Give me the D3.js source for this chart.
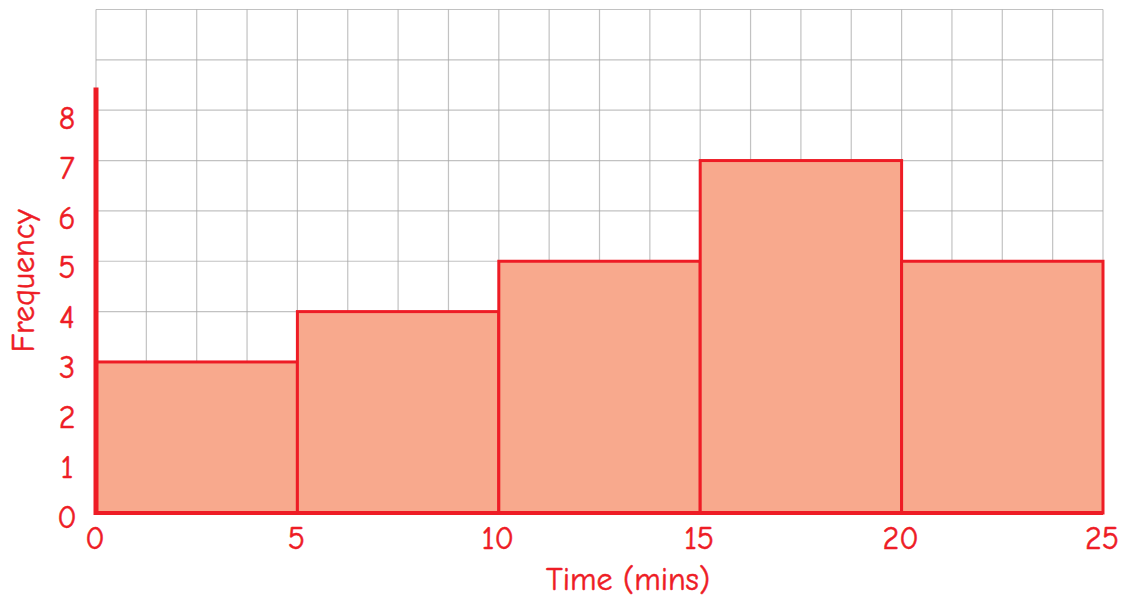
<!DOCTYPE html>
<html><head><meta charset="utf-8">
<script src="https://cdn.jsdelivr.net/npm/d3@7/dist/d3.min.js"></script>
<style>
html,body{margin:0;padding:0;background:#fff;}
svg{display:block;}
text{font-family:"Comic Sans MS","Comic Neue","Lato","Noto Sans",sans-serif;fill:#ee1c25;stroke:#ee1c25;stroke-width:0.5;}
</style></head>
<body><svg id="c" width="1126" height="599"></svg>
<script>
const binStarts = [0, 5, 10, 15, 20];
const binEnds = [5, 10, 15, 20, 25];
const frequencies = [3, 4, 5, 7, 5];
const xTickLabels = [0, 5, 10, 15, 20, 25];
const yTickLabels = [0, 1, 2, 3, 4, 5, 6, 7, 8];
const xGrid = d3.range(0, 25.001, 1.25);
const yGrid = d3.range(0, 10.001, 1);

const RED = "#ee1c25", FILL = "#f8a98d";
const svg = d3.select("#c");
const x = d3.scaleLinear().domain([0, 25]).range([96, 1103]);
const y = d3.scaleLinear().domain([0, 10]).range([513, 9.5]);
// label positions in the original are spaced slightly tighter than the grid
const yLab = d3.scaleLinear().domain([0, 8]).range([516, 117.5]);

// grid
const g = svg.append("g");
g.selectAll("line.v").data(xGrid).enter().append("line")
  .attr("x1", d => x(d)).attr("x2", d => x(d)).attr("y1", y(0)).attr("y2", y(10))
  .attr("stroke", "#a8a8a8").attr("stroke-width", 1.2).attr("stroke-opacity", 0.7);
g.selectAll("line.h").data(yGrid).enter().append("line")
  .attr("x1", x(0)).attr("x2", x(25)).attr("y1", d => y(d)).attr("y2", d => y(d))
  .attr("stroke", "#a8a8a8").attr("stroke-width", 1.2).attr("stroke-opacity", 0.7);

// bars
const bars = binStarts.map((s, i) => ({s, e: binEnds[i], f: frequencies[i]}));
svg.append("g").selectAll("rect").data(bars).enter().append("rect")
  .attr("x", d => x(d.s)).attr("y", d => y(d.f))
  .attr("width", d => x(d.e) - x(d.s)).attr("height", d => y(0) - y(d.f))
  .attr("fill", FILL).attr("stroke", RED).attr("stroke-width", 3);

// axes lines
svg.append("line").attr("x1", x(0)).attr("x2", x(0)).attr("y1", 87.5).attr("y2", y(0) + 2)
  .attr("stroke", RED).attr("stroke-width", 5);
svg.append("line").attr("x1", x(0)).attr("x2", x(25)).attr("y1", y(0)).attr("y2", y(0))
  .attr("stroke", RED).attr("stroke-width", 4);

// tick labels
svg.append("g").selectAll("text").data(yTickLabels).enter().append("text")
  .attr("x", 67).attr("y", d => yLab(d)).attr("dy", "0.36em").attr("text-anchor", "middle")
  .attr("font-size", 32).text(d => d);
svg.append("g").selectAll("text").data(xTickLabels).enter().append("text")
  .attr("x", d => x(d) - 1).attr("y", 549).attr("text-anchor", "middle")
  .attr("font-size", 32).text(d => d);

// axis titles
svg.append("text").attr("x", 628).attr("y", 590).attr("text-anchor", "middle")
  .attr("font-size", 32).text("Time (mins)");
svg.append("text").attr("transform", "translate(34,281) rotate(-90)").attr("text-anchor", "middle")
  .attr("font-size", 32).text("Frequency");
</script></body></html>
